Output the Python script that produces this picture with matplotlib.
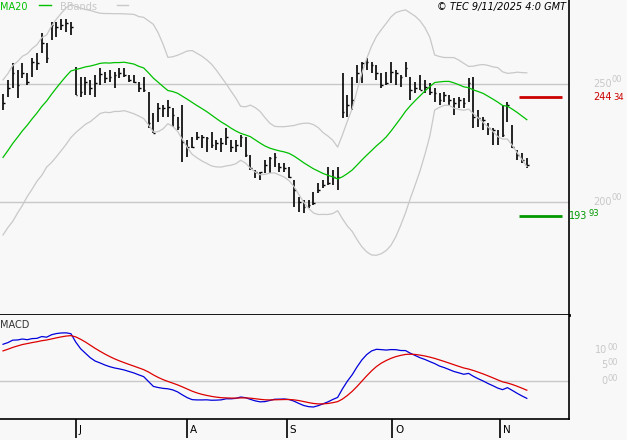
import numpy as np
import matplotlib
matplotlib.use("Agg")
import matplotlib.pyplot as plt
from matplotlib.transforms import ScaledTranslation

# prix journaliers (plus hauts, plus bas, cloture) affichés
highs = [24580, 25170, 25890, 25590, 25890, 25470, 26100, 26310, 27160, 26740,
         27630, 27630, 27750, 27750, 27630, 25720, 25300, 25300, 25170, 25380,
         25680, 25510, 25590, 25510, 25680, 25680, 25380, 25380, 25090, 25300,
         24660, 23770, 24200, 24110, 24320, 23980, 23600, 24110, 22630, 22750,
         22970, 22840, 22750, 22970, 22630, 22710, 23140, 22630, 22630, 22840,
         22750, 21990, 21360, 21270, 21780, 21910, 22080, 21650, 21650, 21480,
         20930, 20210, 20090, 20090, 20420, 20800, 20930, 21480, 21360, 21480,
         25470, 24530, 25300, 25810, 25930, 26100, 25930, 25810, 25470, 25510,
         25930, 25590, 25380, 25930, 25300, 25090, 25380, 25170, 25040, 24830,
         24620, 24660, 24530, 24410, 24450, 24410, 25250, 25300, 23900, 23600,
         23350, 23140, 23050, 24110, 24240, 23260, 22200, 22080, 21860]
lows = [23900, 24450, 24830, 24410, 25250, 24960, 25300, 25590, 26310, 25890,
        26860, 26990, 27290, 27200, 27080, 24530, 24450, 24530, 24530, 24450,
        24960, 25040, 25090, 24830, 25250, 25300, 25090, 25040, 24660, 24660,
        23140, 22920, 23390, 23600, 23600, 23180, 23050, 21700, 21910, 22290,
        22630, 22290, 22120, 22290, 22200, 22120, 22420, 22120, 22120, 22330,
        21910, 21360, 21020, 20930, 21230, 21230, 21480, 21270, 21270, 21020,
        19790, 19580, 19530, 19750, 19870, 20380, 20590, 20720, 20720, 20510,
        23560, 23600, 23900, 25040, 25040, 25590, 25470, 25170, 24830, 24960,
        25040, 24960, 24870, 25300, 24320, 24620, 24750, 24620, 24530, 24240,
        24110, 24240, 24110, 23690, 23980, 23980, 24240, 23140, 23180, 23050,
        22840, 22420, 22420, 22750, 23390, 22290, 21780, 21650, 21440]
closes = [24200, 24830, 25470, 24960, 25470, 25090, 25930, 25890, 26740, 26100,
          27500, 27420, 27500, 27590, 27420, 24530, 24660, 25090, 24830, 25040,
          25420, 25250, 25300, 25380, 25470, 25380, 25170, 25090, 24830, 24750,
          23350, 22920, 23980, 23980, 24030, 23690, 23180, 22540, 22330, 22330,
          22750, 22750, 22710, 22420, 22500, 22500, 22750, 22330, 22420, 22750,
          21990, 21440, 21270, 21270, 21570, 21860, 21910, 21480, 21440, 21060,
          20510, 20000, 19790, 19870, 19960, 20510, 20720, 20800, 21060, 21060,
          23810, 24110, 24320, 25470, 25890, 25930, 25810, 25470, 24960, 25040,
          25510, 25470, 25300, 25680, 24750, 24830, 24750, 24870, 24660, 24620,
          24320, 24530, 24320, 24200, 24320, 24200, 25040, 23600, 23560, 23480,
          23140, 23050, 22750, 22840, 24110, 22330, 21990, 21780, 21570]
# historique non affiché (calcul MA20 / bandes / MACD)
history = [19300, 19250, 19400, 19350, 19200, 19300, 19450, 19400, 19350, 19500,
           19450, 19300, 19400, 19500, 19350, 19300, 19200, 19100, 19000, 18900,
           19100, 19400, 19700, 20000, 20300, 20600, 20900, 21200, 21500, 21800,
           22100, 22400, 22700, 23000, 23300, 23600, 23900, 24100, 24000]
months = ["J", "A", "S", "O", "N"]
month_bars = [15, 38, 58.5, 80.3, 102.5]
resist, support = 24434, 19393

BG = "#f8f8f8"
GREY = "#c8c8c8"
allc = np.array(history + closes, float)
n_h = len(history)
ma = np.convolve(allc, np.ones(20) / 20, mode="valid")
sd = np.array([allc[i - 19:i + 1].std() for i in range(19, len(allc))])
off = n_h - 19
ma, sd = ma[off:], sd[off:]


def ema(a, s):
    k = 2 / (s + 1); o = [a[0]]
    for v in a[1:]:
        o.append(o[-1] + k * (v - o[-1]))
    return np.array(o)


macd = ema(allc, 12) - ema(allc, 26)
sig = ema(macd, 9)
macd, sig = macd[n_h:], sig[n_h:]

x = np.arange(len(closes))
fig = plt.figure(figsize=(6.27, 4.40), dpi=100, facecolor=BG)
ax = fig.add_axes([0, 1 - 315 / 440, 569 / 627, 315 / 440], facecolor=BG)
ax2 = fig.add_axes([0, 1 - 419 / 440, 569 / 627, 104 / 440], facecolor=BG)
xl = (-0.62, 116.7)

ax.vlines(x, lows, highs, color="black", lw=1.2)
ax.hlines(closes, x, x + 0.35, color="black", lw=1)
ax.plot(x, ma, color="#00c000", lw=0.9)
ax.plot(x, ma + 2 * sd, color=GREY, lw=0.9)
ax.plot(x, ma - 2 * sd, color=GREY, lw=0.9)
for v in (25000, 20000):
    ax.axhline(v, color=GREY, lw=1, zorder=0)
ax.set_xlim(*xl); ax.set_ylim(15212, 28559)
ax.hlines([resist], 106.4, 115.3, color="#cc0000", lw=2)
ax.hlines([support], 106.4, 115.3, color="#009900", lw=2)
tr = ax.get_yaxis_transform()
ax.text(1.042, resist, "244", color="#cc0000", fontsize=7, transform=tr, va="center")
ax.text(1.078, resist, "34", color="#cc0000", fontsize=6, transform=tr, va="center")
ax.text(1.0, support, "193", color="#009900", fontsize=7, transform=tr, va="center")
ax.text(1.035, support + 100, "93", color="#009900", fontsize=6, transform=tr, va="center")
for v, lab in ((25000, "250"), (20000, "200")):
    ax.text(1.042, v, lab, color=GREY, fontsize=7, transform=tr, va="center")
    ax.text(1.075, v + 200, "00", color=GREY, fontsize=6, transform=tr, va="center")
ax.text(0.0, 0.995, "MA20", color="#00c000", fontsize=7, transform=ax.transAxes, va="top")
ax.plot([0.068, 0.09], [0.983, 0.983], color="#00c000", lw=1, transform=ax.transAxes)
ax.text(0.105, 0.995, "BBands", color=GREY, fontsize=7, transform=ax.transAxes, va="top")
ax.plot([0.205, 0.225], [0.983, 0.983], color=GREY, lw=1, transform=ax.transAxes)
ax.text(0.995, 0.995, "© TEC 9/11/2025 4:0 GMT", fontsize=7, style="italic",
        transform=ax.transAxes, va="top", ha="right")

ax2.plot(x, macd, color="#0000dd", lw=0.9)
ax2.plot(x, sig, color="#dd0000", lw=0.9)
ax2.axhline(0, color=GREY, lw=1, zorder=0)
ax2.set_xlim(*xl); ax2.set_ylim(-1226, 2129)
tr2 = ax2.get_yaxis_transform()
for v, lab in ((1000, "10"), (500, "5"), (0, "0")):
    ax2.text(1.067, v, lab, color=GREY, fontsize=7, transform=tr2, va="center", ha="right")
    ax2.text(1.067, v + 90, "00", color=GREY, fontsize=6, transform=tr2, va="center")
ax2.text(0.0, 0.95, "MACD", fontsize=7, color="#333333", transform=ax2.transAxes, va="top")

for a in (ax, ax2):
    a.set_xticks([]); a.set_yticks([])
    a.spines["left"].set_visible(False)
    a.spines["top"].set_visible(False)
    a.spines["right"].set_linewidth(1.2)
ax.spines["bottom"].set_linewidth(2)
ax2.spines["bottom"].set_linewidth(1.2)
ax2.set_xticks(month_bars)
ax2.set_xticklabels(months, fontsize=7.5, ha="left")
ax2.tick_params(axis="x", length=14, width=1.2, direction="out", pad=-10)
for t in ax2.get_xticklabels():
    t.set_transform(t.get_transform() + ScaledTranslation(2 / 72, 0, fig.dpi_scale_trans))

fig.savefig("out.png", dpi=100, facecolor=BG)
